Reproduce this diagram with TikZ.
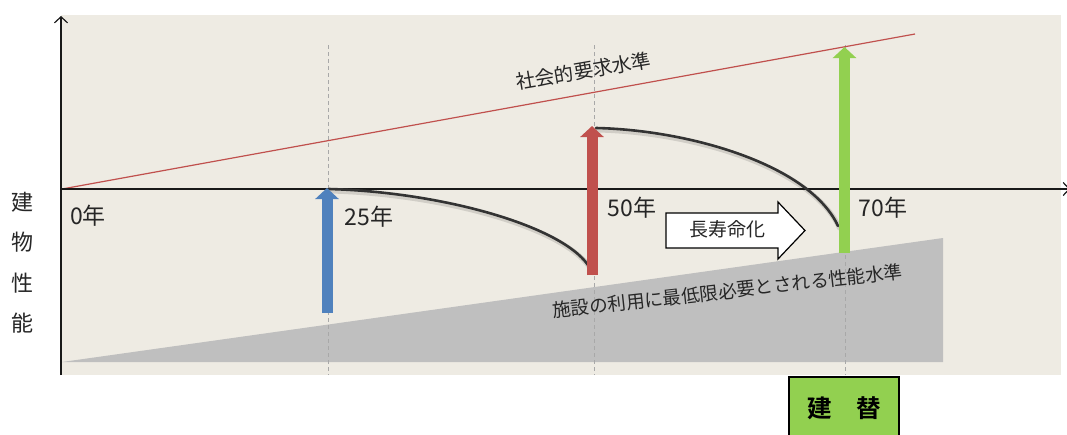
\documentclass[tikz,border=0pt]{standalone}
\usepackage{fontspec}
\newfontfamily\jp{Noto Sans CJK JP}[BoldFont={Noto Sans CJK JP Bold}]
\usetikzlibrary{arrows.meta}
\definecolor{bgbeige}{HTML}{EEEBE3}
\definecolor{polygray}{HTML}{BFBFBF}
\definecolor{reqred}{HTML}{C0504D}
\definecolor{arrblue}{HTML}{4F81BD}
\definecolor{arrred}{HTML}{C0504D}
\definecolor{arrgreen}{HTML}{92D050}
\definecolor{dashgray}{HTML}{A8A8A8}
\definecolor{curvegray}{HTML}{333333}
\tikzset{
  axisline/.style={line width=1.3pt, draw=black!90, -{Straight Barb[length=6pt,width=13pt,line width=1.2pt]}},
  guide/.style={draw=dashgray, line width=0.9pt, dash pattern=on 4pt off 3pt},
  reqline/.style={draw=reqred, line width=1.2pt},
  bigarrow/.style={line width=11pt, -{Triangle[length=11pt,width=23pt]}},
  curveline/.style={draw=curvegray, line width=2.6pt, line cap=round},
  curveshadow/.style={draw=black, opacity=0.12, line width=5pt, line cap=round},
  yearlabel/.style={font=\jp\fontsize{23}{23}\selectfont, inner sep=0pt, text=black!85},
  axistitle/.style={font=\jp\fontsize{22}{22}\selectfont, inner sep=0pt, text=black!85},
  slanttext/.style={inner sep=0pt, text=black!85},
  lifebox/.style={draw=black, line width=1.2pt, fill=white},
  rebuildbox/.style={draw=black, line width=2pt, fill=arrgreen, minimum width=110pt, minimum height=62pt, inner sep=0pt,
    font=\jp\bfseries\fontsize{24.5}{24.5}\selectfont}
}
\begin{document}
\begin{tikzpicture}[x=1pt,y=-1pt]
\useasboundingbox (0,0) rectangle (1067,434);
% background
\fill[bgbeige] (61,15) rectangle (1061,375);
% minimum level polygon
\fill[polygray] (62,362) -- (943,238) -- (943,362) -- cycle;
% guide lines
\coordinate (g25t) at (328,45);  \coordinate (g25b) at (328,375);
\coordinate (g50t) at (594,45);  \coordinate (g50b) at (594,375);
\coordinate (g70t) at (845,45);  \coordinate (g70b) at (845,375);
\draw[guide] (g25t) -- (g25b);
\draw[guide] (g50t) -- (g50b);
\draw[guide] (g70t) -- (g70b);
% social requirement line
\coordinate (r0) at (62,189);
\coordinate (r1) at (915,34);
\draw[reqline] (r0) -- (r1);
% axes
\coordinate (ybot) at (61,375);
\coordinate (ytop) at (61,16);
\coordinate (xl) at (61,189);
\coordinate (xr) at (1070,189);
\draw[axisline] (ybot) -- (ytop);
\draw[axisline] (xl) -- (xr);
% deterioration curves
\coordinate (c1s) at (329,189);
\coordinate (c1e) at (588,265);
\coordinate (c2s) at (596,128);
\coordinate (c2e) at (838,226);
\draw[curveshadow] ([shift={(1.5,2)}]c1s) .. controls (441.5,194) and (561.5,227) .. ([shift={(1.5,2)}]c1e);
\draw[curveshadow] ([shift={(1.5,2)}]c2s) .. controls (691.5,132) and (811.5,167) .. ([shift={(1.5,2)}]c2e);
\draw[curveline] (c1s) .. controls (440,192) and (560,225) .. (c1e);
\draw[curveline] (c2s) .. controls (690,130) and (810,165) .. (c2e);
% renovation arrows
\coordinate (b0) at (327,313); \coordinate (b1) at (327,188);
\coordinate (m0) at (592,275); \coordinate (m1) at (592,126);
\coordinate (n0) at (844.5,253); \coordinate (n1) at (844.5,47);
\draw[bigarrow, draw=arrblue, fill=arrblue] (b0) -- (b1);
\draw[bigarrow, draw=arrred, fill=arrred] (m0) -- (m1);
\draw[bigarrow, draw=arrgreen, fill=arrgreen] (n0) -- (n1);
% life extension arrow
\draw[lifebox] (666,213) -- (778,213) -- (778,202) -- (805,230.5) -- (778,259) -- (778,248) -- (666,248) -- cycle;
\node[slanttext, font=\jp\fontsize{19}{19}\selectfont] (life) at (727,229) {長寿命化};
% year labels
\node[yearlabel] (y0) at (88,216) {0年};
\node[yearlabel] (y25) at (369,217) {25年};
\node[yearlabel] (y50) at (632,208) {50年};
\node[yearlabel] (y70) at (883,208) {70年};
% vertical axis title
\node[axistitle] (t1) at (23,202) {建};
\node[axistitle] (t2) at (23,242) {物};
\node[axistitle] (t3) at (23,283) {性};
\node[axistitle] (t4) at (23,323) {能};
% slanted labels
\node[slanttext, rotate=9.7, font=\jp\fontsize{19.5}{19.5}\selectfont] (req) at (583.5,71) {社会的要求水準};
\node[slanttext, rotate=6.3, font=\jp\fontsize{18.5}{18.5}\selectfont] (minlv) at (727.5,291) {施設の利用に最低限必要とされる性能水準};
% rebuild box
\node[rebuildbox] (rebuild) at (844,408) {建\hspace{1em}替};
\end{tikzpicture}
\end{document}
